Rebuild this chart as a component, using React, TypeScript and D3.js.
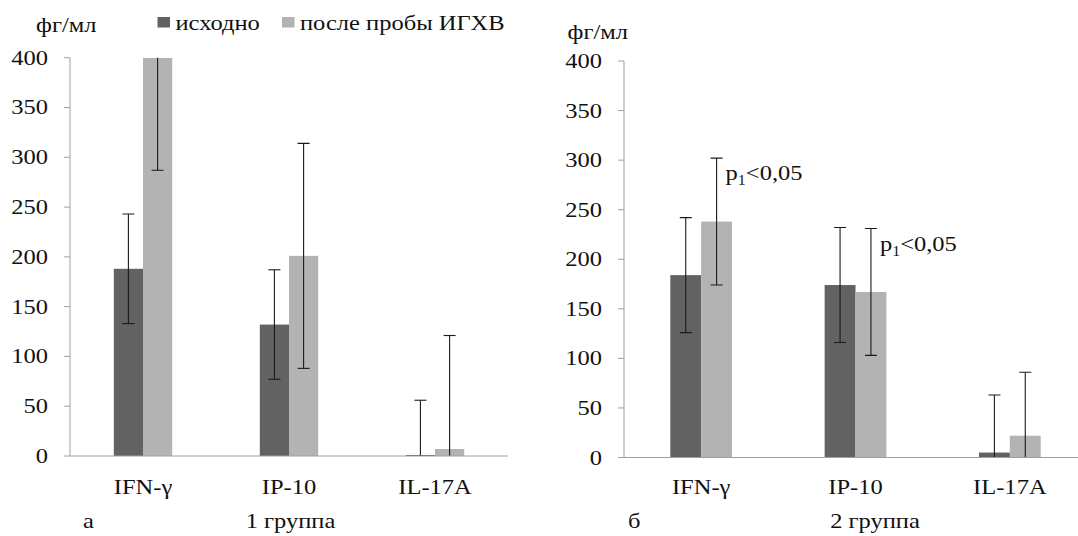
import React, { useEffect, useRef } from 'react';
import * as d3 from 'd3';

// Categories and series
const categories = ['IFN-γ', 'IP-10', 'IL-17A'];
const seriesNames = ['исходно', 'после пробы ИГХВ'];
const seriesColors = ['#626262', '#b3b3b3'];
const yTickValues = [0, 50, 100, 150, 200, 250, 300, 350, 400];

// Group 1 (panel а)
const group1Before = [188, 132, 1];
const group1After = [400, 201, 7];
const group1BeforeErr = [55, 55, 55];
const group1AfterErr = [113, 113, 114];

// Group 2 (panel б)
const group2Before = [184, 174, 5];
const group2After = [238, 167, 22];
const group2BeforeErr = [58, 58, 58];
const group2AfterErr = [64, 64, 64];

// Significance marks on group 2 (series index 1 = после пробы)
const group2Marks = [
  { category: 'IFN-γ', series: 1, label: '<0,05' },
  { category: 'IP-10', series: 1, label: '<0,05' },
];

const FONT = 'Liberation Serif, DejaVu Serif, Times New Roman, serif';
const FS = 21.5;
const SX = 1.14; // text in the source is slightly stretched horizontally

const W = 1078;
const H = 536;

const App = () => {
  const ref = useRef(null);

  useEffect(() => {
    const svg = d3.select(ref.current);
    svg.selectAll('*').remove();

    // text helper: places text with a small horizontal stretch
    const addText = (g, x, y, str, anchor = 'start') =>
      g.append('text')
        .attr('transform', `translate(${x},${y}) scale(${SX},1)`)
        .attr('text-anchor', anchor)
        .style('font-family', FONT)
        .attr('font-size', FS)
        .attr('fill', '#111')
        .text(str);

    const drawPanel = (opts) => {
      const { id, x0, x1, y0, y400, before, after, beforeErr, afterErr, marks } = opts;
      const g = svg.append('g');

      const x = d3.scaleBand()
        .domain(categories)
        .range([x0, x1])
        .paddingInner(0.6)
        .paddingOuter(0.3);

      const xs = d3.scaleBand()
        .domain([0, 1])
        .range([0, x.bandwidth()]);

      const y = d3.scaleLinear()
        .domain([0, 400])
        .range([y0, y400]);

      // clip to the plot area so out-of-range error bars are cut
      svg.append('defs').append('clipPath')
        .attr('id', `clip-${id}`)
        .append('rect')
        .attr('x', x0)
        .attr('y', y(400))
        .attr('width', x1 - x0)
        .attr('height', y(0) - y(400));

      // y axis
      g.append('line')
        .attr('x1', x0).attr('x2', x0)
        .attr('y1', y(400)).attr('y2', y(0))
        .attr('stroke', '#a0a0a0');
      yTickValues.forEach(t => {
        g.append('line')
          .attr('x1', x0 - 6).attr('x2', x0)
          .attr('y1', y(t)).attr('y2', y(t))
          .attr('stroke', '#a0a0a0');
        addText(g, x0 - 22, y(t) + 7, String(t), 'end');
      });

      const plot = g.append('g').attr('clip-path', `url(#clip-${id})`);

      const values = [before, after];
      const errs = [beforeErr, afterErr];

      // bars
      values.forEach((vals, s) => {
        plot.selectAll(`.bar-${s}`)
          .data(vals)
          .enter()
          .append('rect')
          .attr('x', (d, i) => x(categories[i]) + xs(s))
          .attr('y', d => y(d))
          .attr('width', xs.bandwidth())
          .attr('height', d => y(0) - y(d))
          .attr('fill', seriesColors[s]);
      });

      // baseline
      g.append('line')
        .attr('x1', x0).attr('x2', x1)
        .attr('y1', y(0)).attr('y2', y(0))
        .attr('stroke', '#a0a0a0');

      // error bars
      values.forEach((vals, s) => {
        vals.forEach((v, i) => {
          const cx = x(categories[i]) + xs(s) + xs.bandwidth() / 2;
          const e = errs[s][i];
          const eb = plot.append('g').attr('stroke', '#1a1a1a').attr('stroke-width', 1.1);
          eb.append('line').attr('x1', cx).attr('x2', cx).attr('y1', y(v + e)).attr('y2', y(v - e));
          eb.append('line').attr('x1', cx - 6).attr('x2', cx + 6).attr('y1', y(v + e)).attr('y2', y(v + e));
          eb.append('line').attr('x1', cx - 6).attr('x2', cx + 6).attr('y1', y(v - e)).attr('y2', y(v - e));
        });
      });

      // category labels
      categories.forEach(c => {
        addText(g, x(c) + x.bandwidth() / 2, 493.5, c, 'middle');
      });

      // significance marks
      (marks || []).forEach(m => {
        const i = categories.indexOf(m.category);
        const v = values[m.series][i] + errs[m.series][i];
        const cx = x(m.category) + xs(m.series) + xs.bandwidth() / 2;
        const t = g.append('text')
          .attr('transform', `translate(${cx + 9},${y(v) + 22}) scale(${SX},1)`)
          .style('font-family', FONT)
          .attr('font-size', FS)
          .attr('fill', '#111');
        t.append('tspan').text('p');
        t.append('tspan').attr('font-size', FS * 0.65).attr('dy', 5).text('1');
        t.append('tspan').attr('dy', -5).text(m.label);
      });

      return { x, y };
    };

    // panel а
    drawPanel({
      id: 'a', x0: 70, x1: 508, y0: 456, y400: 57.7,
      before: group1Before, after: group1After,
      beforeErr: group1BeforeErr, afterErr: group1AfterErr,
    });
    addText(svg, 36, 31.5, 'фг/мл');
    addText(svg, 83, 528, 'а');
    addText(svg, 290.5, 528, '1 группа', 'middle');

    // legend
    const legendX = [157.5, 282];
    const legendTextX = [175.5, 300];
    seriesNames.forEach((name, s) => {
      svg.append('rect')
        .attr('x', legendX[s]).attr('y', 17)
        .attr('width', 12.5).attr('height', 10.5)
        .attr('fill', seriesColors[s]);
      addText(svg, legendTextX[s], 30, name);
    });

    // panel б
    drawPanel({
      id: 'b', x0: 624, x1: 1087, y0: 457.5, y400: 61,
      before: group2Before, after: group2After,
      beforeErr: group2BeforeErr, afterErr: group2AfterErr,
      marks: group2Marks,
    });
    addText(svg, 567.5, 38.5, 'фг/мл');
    addText(svg, 628, 528, 'б');
    addText(svg, 875, 528, '2 группа', 'middle');
  }, []);

  return (
    <div style={{ position: 'absolute', left: 0, top: 0 }}>
      <svg ref={ref} width={W} height={H} style={{ display: 'block', background: '#fff' }} />
    </div>
  );
};

export default App;
